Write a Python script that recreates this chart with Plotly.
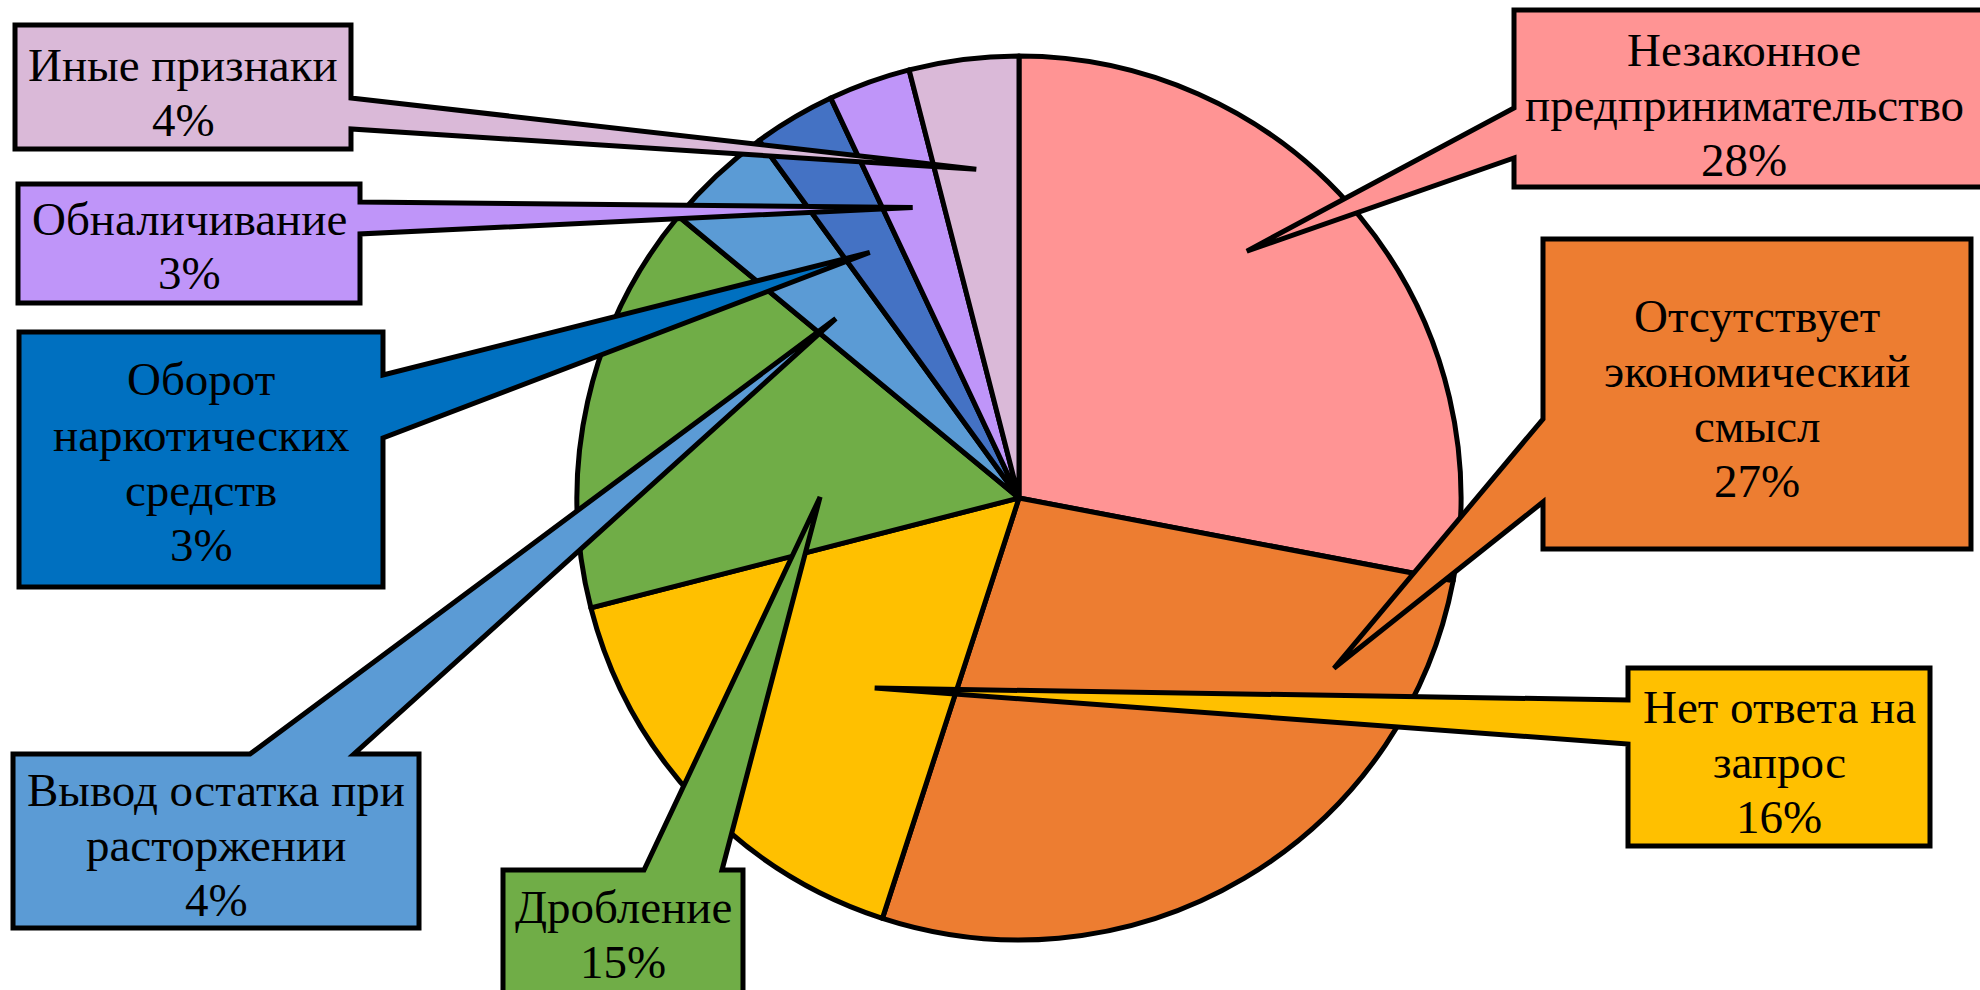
import math
import plotly.graph_objects as go

# --- data -----------------------------------------------------------------
categories = [
    "Незаконное\nпредпринимательство",
    "Отсутствует\nэкономический\nсмысл",
    "Нет ответа на\nзапрос",
    "Дробление",
    "Вывод остатка при\nрасторжении",
    "Оборот\nнаркотических\nсредств",
    "Обналичивание",
    "Иные признаки",
]
shares = [28, 27, 16, 15, 4, 3, 3, 4]

slice_colors = ["#FF9494", "#ED7D31", "#FFC000", "#70AD47",
                "#5B9BD5", "#4472C4", "#BF95F9", "#DAB9D8"]
box_colors = ["#FF9494", "#ED7D31", "#FFC000", "#70AD47",
              "#5B9BD5", "#0070C0", "#BF95F9", "#DAB9D8"]

# --- layout geometry (pixels on a 1980 x 990 canvas) ----------------------
W, H = 1980, 990
CX, CY, R = 1019, 498, 442          # pie centre and radius
EDGE = 5                            # outline width of slices and callouts

# callout boxes: (x0, y0, x1, y1), side the pointer leaves from, pointer base
boxes = [
    (1514, 10, 1985, 187),
    (1543, 239, 1971, 549),
    (1628, 668, 1930, 846),
    (503, 870, 743, 1000),
    (13, 754, 419, 928),
    (19, 332, 383, 587),
    (18, 184, 360, 303),
    (15, 25, 351, 149),
]
sides = ["left", "left", "left", "top", "top", "right", "right", "right"]
bases = [(108, 158), (419, 502), (700, 744), (644, 722),
         (250, 354), (375, 438), (202, 234), (98, 129)]
# pointer tip: angular offset from the slice middle (deg) and radius fraction
tip_shift = [-7.7, -31.0, -9.6, -12.3, -2.4, -0.7, -0.3, -0.2]
tip_r = [0.76, 0.81, 0.54, 0.45, 0.58, 0.65, 0.70, 0.75]
# text block centres
text_c = [(1744, 105), (1757, 398), (1779, 762), (623, 934),
          (216, 845), (201, 462), (189, 246), (183, 92)]
LINE = 55
FONT = dict(family="Liberation Serif", size=47, color="black")


def paper(x, y):
    return x / W, 1 - y / H


def path_of(points):
    parts = []
    for i, (x, y) in enumerate(points):
        px_, py_ = paper(x, y)
        parts.append(("M" if i == 0 else "L") + f"{px_:.5f},{py_:.5f}")
    return " ".join(parts) + " Z"


fig = go.Figure()
fig.add_trace(go.Pie(
    labels=[c.replace("\n", " ") for c in categories],
    values=shares,
    sort=False,
    direction="clockwise",
    rotation=0,
    marker=dict(colors=slice_colors, line=dict(color="black", width=EDGE)),
    textinfo="none",
    hoverinfo="label+percent",
    showlegend=False,
    domain=dict(x=[(CX - R) / W, (CX + R) / W],
                y=[1 - (CY + R) / H, 1 - (CY - R) / H]),
))

total = sum(shares)
cum = 0
shapes = []
annotations = []
for i, v in enumerate(shares):
    mid = (cum + v / 2) / total * 360
    cum += v
    ang = math.radians(mid + tip_shift[i])
    tx = CX + tip_r[i] * R * math.sin(ang)
    ty = CY - tip_r[i] * R * math.cos(ang)
    x0, y0, x1, y1 = boxes[i]
    a, b = bases[i]
    if sides[i] == "left":
        pts = [(x0, y0), (x1, y0), (x1, y1), (x0, y1), (x0, b), (tx, ty), (x0, a)]
    elif sides[i] == "right":
        pts = [(x0, y0), (x1, y0), (x1, a), (tx, ty), (x1, b), (x1, y1), (x0, y1)]
    else:
        pts = [(x0, y0), (a, y0), (tx, ty), (b, y0), (x1, y0), (x1, y1), (x0, y1)]
    shapes.append(dict(type="path", path=path_of(pts), xref="paper", yref="paper",
                       fillcolor=box_colors[i], line=dict(color="black", width=EDGE),
                       layer="above"))
    lines = categories[i].split("\n") + [f"{v}%"]
    cx, cy = text_c[i]
    n = len(lines)
    for k, t in enumerate(lines):
        ly = cy + (k - (n - 1) / 2) * LINE
        ax, ay = paper(cx, ly)
        annotations.append(dict(text=t, x=ax, y=ay, xref="paper", yref="paper",
                                xanchor="center", yanchor="middle",
                                showarrow=False, font=FONT))

fig.update_layout(
    width=W, height=H,
    margin=dict(l=0, r=0, t=0, b=0),
    paper_bgcolor="white",
    plot_bgcolor="white",
    shapes=shapes,
    annotations=annotations,
)

fig.write_html("out.html")
